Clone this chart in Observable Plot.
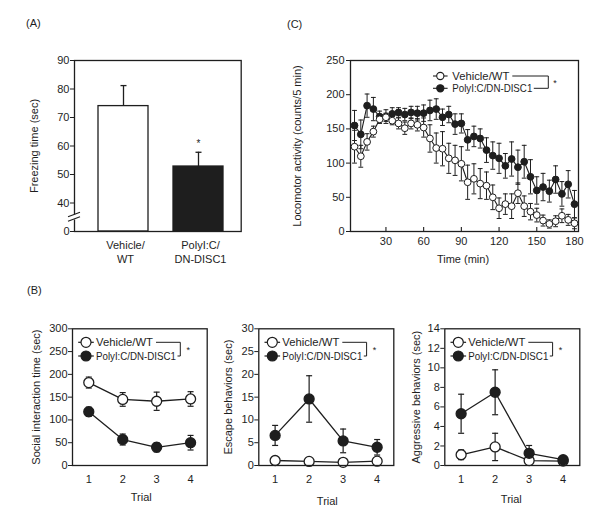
<!DOCTYPE html>
<html>
<head>
<meta charset="utf-8">
<script src="https://cdn.jsdelivr.net/npm/d3@7"></script>
<script src="https://cdn.jsdelivr.net/npm/@observablehq/plot@0.6"></script>
<style>
  body { margin: 0; background: #fff; }
  #page { position: relative; width: 600px; height: 522px; font-family: "Liberation Sans", Arial, Helvetica, sans-serif; color: #1e1e1e; overflow: hidden; }
  .plabel { position: absolute; font-size: 11px; line-height: 11px; }
  .panel { position: absolute; }
</style>
</head>
<body>
<div id="page">
  <div class="plabel" style="left:26px;top:18px;">(A)</div>
  <div class="plabel" style="left:27px;top:285px;">(B)</div>
  <div class="plabel" style="left:287px;top:18.5px;">(C)</div>
</div>
<script>
// ---------------- DATA ----------------
const seriesNames = ["Vehicle/WT", "PolyI:C/DN-DISC1"];

// (A) Freezing time
const groupsA = ["Vehicle/\nWT", "PolyI:C/\nDN-DISC1"];
const freezeMean = [74.0, 52.8];
const freezeSem = [7.2, 5.0];
const freezeTicks = [30, 40, 50, 60, 70, 80, 90];          // axis is broken below 40
const freezeTickLabels = ["0", "40", "50", "60", "70", "80", "90"];
const freezeStars = ["", "*"];
const freezeLabel = ["Freezing time (sec)"];

// (B) Social interaction test
const trials = [1, 2, 3, 4];
const socialVeh = [182, 145, 141, 146];
const socialVehErr = [12, 15, 20, 16];
const socialPoly = [118, 57, 40, 50];
const socialPolyErr = [10, 12, 10, 16];
const socialTicks = [0, 50, 100, 150, 200, 250, 300];

const escapeVeh = [1.1, 0.9, 0.7, 0.95];
const escapeVehErr = [0.3, 0.3, 0.3, 0.3];
const escapePoly = [6.6, 14.6, 5.4, 4.0];
const escapePolyErr = [2.2, 5.1, 2.6, 1.7];
const escapeTicks = [0, 5, 10, 15, 20, 25, 30];

const aggrVeh = [1.1, 1.9, 0.5, 0.45];
const aggrVehErr = [0.5, 1.4, 0.1, 0.1];
const aggrPoly = [5.3, 7.5, 1.25, 0.6];
const aggrPolyErr = [2.0, 2.3, 0.8, 0.2];
const aggrTicks = [0, 2, 4, 6, 8, 10, 12, 14];

const trialLabel = ["Trial"];
const bLabels = ["Social interaction time (sec)", "Escape behaviors (sec)", "Aggressive behaviors (sec)"];

// (C) Locomotor activity
const minutes = [5, 10, 15, 20, 25, 30, 35, 40, 45, 50, 55, 60, 65, 70, 75, 80, 85, 90,
  95, 100, 105, 110, 115, 120, 125, 130, 135, 140, 145, 150, 155, 160, 165, 170, 175, 180];
const locoVeh = [124, 110, 131, 146, 164, 167, 162, 158, 151, 158, 156, 152, 136, 122, 121, 107, 104, 99,
  72, 77, 70, 67, 50, 34, 40, 37, 56, 37, 29, 24, 16, 11, 15, 23, 17, 12];
const locoVehErr = [24, 16, 12, 8, 6, 6, 6, 8, 9, 8, 9, 14, 20, 22, 25, 22, 22, 25,
  25, 22, 22, 20, 18, 15, 15, 18, 15, 15, 12, 10, 8, 6, 8, 10, 8, 8];
const locoPoly = [155, 142, 184, 179, 168, 168, 172, 174, 171, 174, 173, 173, 177, 179, 167, 171, 157, 158,
  134, 139, 136, 119, 111, 107, 96, 106, 94, 102, 80, 60, 65, 59, 76, 55, 69, 40];
const locoPolyErr = [22, 21, 17, 17, 8, 10, 9, 7, 9, 9, 10, 12, 15, 15, 12, 12, 15, 14,
  15, 15, 14, 18, 20, 22, 18, 25, 25, 24, 25, 20, 20, 16, 20, 18, 20, 20];
const locoXTicks = [30, 60, 90, 120, 150, 180];
const locoYTicks = [0, 50, 100, 150, 200, 250];
const locoLabels = ["Time (min)", "Locomotor activity (counts/5 min)"];

// ---------------- HELPERS ----------------
const INK = "#1e1e1e";
const FONT = '"Liberation Sans", Arial, Helvetica, sans-serif';
const page = document.getElementById("page");
const baseStyle = {fontFamily: FONT, fontSize: "11px", color: INK, background: "transparent", overflow: "visible"};
const legendTextWidths = [57, 80];

const capSymbol = {draw(ctx, size) { const w = Math.sqrt(size / Math.PI); ctx.moveTo(-w, 0); ctx.lineTo(w, 0); }};

function place(svg, left, top) {
  const div = document.createElement("div");
  div.className = "panel";
  div.style.left = left + "px";
  div.style.top = top + "px";
  div.appendChild(svg);
  page.appendChild(div);
  return svg;
}

function errorBars(rows, {x, capR, sw, twoSided = true}) {
  const marks = [
    Plot.ruleX(rows, {x, y1: twoSided ? "lo" : "v", y2: "hi", stroke: INK, strokeWidth: sw}),
    Plot.dot(rows, {x, y: "hi", symbol: capSymbol, r: capR, stroke: INK, strokeWidth: sw, fill: "none"})
  ];
  if (twoSided) marks.push(Plot.dot(rows, {x, y: "lo", symbol: capSymbol, r: capR, stroke: INK, strokeWidth: sw, fill: "none"}));
  return marks;
}

function yLabel(label, dx) {
  return Plot.text([label], {frameAnchor: "left", rotate: -90, dx, text: d => d, fontSize: 11, fill: INK,
    textAnchor: "middle", lineAnchor: "middle"});
}
function xLabel(label, dx, dy) {
  return Plot.text([label], {frameAnchor: "bottom", dx, dy, text: d => d, fontSize: 11, fill: INK,
    textAnchor: "middle", lineAnchor: "middle"});
}

function drawLegend(svg, o) {
  const g = d3.select(svg).append("g").attr("font-family", FONT).attr("font-size", 11).attr("fill", INK)
    .attr("text-anchor", "start");
  const ys = [o.fy + o.row1, o.fy + o.row2];
  seriesNames.forEach((name, i) => {
    const y = ys[i];
    g.append("line").attr("x1", o.fx + o.markerDx - o.seg).attr("x2", o.fx + o.markerDx + o.seg)
      .attr("y1", y).attr("y2", y).attr("stroke", INK).attr("stroke-width", o.sw);
    g.append("circle").attr("cx", o.fx + o.markerDx).attr("cy", y).attr("r", o.r)
      .attr("fill", i === 0 ? "#fff" : INK).attr("stroke", INK).attr("stroke-width", o.sw);
    g.append("text").attr("x", o.fx + o.textDx).attr("y", y).attr("dy", "0.35em")
      .attr("text-anchor", "start").attr("textLength", legendTextWidths[i]).attr("lengthAdjust", "spacingAndGlyphs")
      .text(name);
  });
  const bx = o.fx + o.bracketDx;
  g.append("path")
    .attr("d", `M${o.fx + o.textDx + legendTextWidths[0] + 3},${ys[0]}H${bx}V${ys[1]}H${o.fx + o.textDx + legendTextWidths[1] + 1.5}`)
    .attr("fill", "none").attr("stroke", INK).attr("stroke-width", 1);
  g.append("text").attr("x", o.fx + o.starDx).attr("y", o.fy + o.starDy).attr("dy", "0.57em")
    .attr("text-anchor", "middle").attr("font-size", 9).text("*");
}

// ---------------- PANEL A ----------------
{
  const rows = groupsA.map((g, i) => ({group: g, v: freezeMean[i], hi: freezeMean[i] + freezeSem[i], star: freezeStars[i]}));
  const W = 280, H = 280, ml = 74, mr = 39.3, mt = 60, mb = 49;
  const svg = Plot.plot({
    width: W, height: H, marginLeft: ml, marginRight: mr, marginTop: mt, marginBottom: mb,
    style: baseStyle,
    x: {type: "band", domain: groupsA, paddingInner: 0.327, paddingOuter: 0.263, align: 0.58, label: null},
    y: {domain: [freezeTicks[0], freezeTicks[freezeTicks.length - 1]], label: null},
    marks: [
      Plot.barY([rows[0]], {x: "group", y1: freezeTicks[0], y2: "v", fill: "#fff", stroke: INK, strokeWidth: 1.3}),
      Plot.barY([rows[1]], {x: "group", y1: freezeTicks[0], y2: "v", fill: INK, stroke: INK, strokeWidth: 1.3}),
      ...errorBars(rows, {x: "group", capR: 3, sw: 1.3, twoSided: false}),
      Plot.text(rows, {x: "group", y: "hi", text: "star", dy: -8, fontSize: 10, fill: INK}),
      Plot.frame({stroke: INK, strokeWidth: 1.3}),
      Plot.axisY({ticks: freezeTicks, tickFormat: d => freezeTickLabels[freezeTicks.indexOf(d)], tickSize: 4, tickPadding: 1, label: null, fill: INK}),
      Plot.axisX({tickSize: 0, tickPadding: 8, lineHeight: 1.27, label: null, dx: 2, fill: INK}),
      yLabel(freezeLabel[0], -40.5)
    ]
  });
  place(svg, 0, 0);
  // axis break marks
  const bk = d3.select(svg).append("g");
  const by = H - mb - 14;
  bk.append("rect").attr("x", ml - 2).attr("y", by - 2.5).attr("width", 4).attr("height", 5).attr("fill", "#fff");
  [-2.3, 2.3].forEach(o => {
    bk.append("line").attr("x1", ml - 6).attr("y1", by + o + 2).attr("x2", ml + 6).attr("y2", by + o - 2.5)
      .attr("stroke", INK).attr("stroke-width", 1.2);
  });
}

// ---------------- PANEL B ----------------
function panelB(vehV, vehE, polyV, polyE, cfg) {
  const mk = (vals, errs) => trials.map((t, i) => ({t, v: vals[i], lo: vals[i] - errs[i], hi: vals[i] + errs[i]}));
  const veh = mk(vehV, vehE), poly = mk(polyV, polyE);
  const mt = 48.3, mb = 57;
  const svg = Plot.plot({
    width: cfg.width, height: 242, marginLeft: cfg.ml, marginRight: cfg.mr, marginTop: mt, marginBottom: mb,
    style: baseStyle,
    x: {domain: [0.52, 4.49], ticks: trials, tickSize: 0, tickPadding: 10, tickFormat: d => String(d), label: null},
    y: {domain: [cfg.ticks[0], cfg.ticks[cfg.ticks.length - 1]], ticks: cfg.ticks, tickSize: 4, tickPadding: 1, label: null},
    marks: [
      Plot.line(veh, {x: "t", y: "v", stroke: INK, strokeWidth: 1.3}),
      Plot.line(poly, {x: "t", y: "v", stroke: INK, strokeWidth: 1.3}),
      ...errorBars(veh, {x: "t", capR: 3, sw: 1.2}),
      ...errorBars(poly, {x: "t", capR: 3, sw: 1.2}),
      Plot.dot(veh, {x: "t", y: "v", r: 5, fill: "#fff", stroke: INK, strokeWidth: 1.3}),
      Plot.dot(poly, {x: "t", y: "v", r: 5, fill: INK, stroke: INK, strokeWidth: 1.3}),
      Plot.frame({stroke: INK, strokeWidth: 1.3}),
      yLabel(cfg.label, cfg.ylDx),
      xLabel(trialLabel[0], cfg.xlDx, cfg.xlDy)
    ]
  });
  place(svg, cfg.left, 280);
  drawLegend(svg, {fx: cfg.ml, fy: mt, markerDx: 14, seg: 7.8, textDx: 24, bracketDx: 108.3, row1: 14, row2: 27.7,
    starDx: 116.3, starDy: 20, r: 5, sw: 1.2});
}
panelB(socialVeh, socialVehErr, socialPoly, socialPolyErr,
  {left: 0, width: 210, ml: 72, mr: 3.3, ticks: socialTicks, label: bLabels[0], ylDx: -35.8, xlDx: 1.4, xlDy: 32});
panelB(escapeVeh, escapeVehErr, escapePoly, escapePolyErr,
  {left: 210, width: 190, ml: 48.3, mr: 6.7, ticks: escapeTicks, label: bLabels[1], ylDx: -30.5, xlDx: 1, xlDy: 35.8});
panelB(aggrVeh, aggrVehErr, aggrPoly, aggrPolyErr,
  {left: 400, width: 200, ml: 44.3, mr: 20.7, ticks: aggrTicks, label: bLabels[2], ylDx: -28.5, xlDx: -1, xlDy: 33.7});

// ---------------- PANEL C ----------------
{
  const mk = (vals, errs) => minutes.map((t, i) => ({t, v: vals[i], lo: vals[i] - errs[i], hi: vals[i] + errs[i]}));
  const veh = mk(locoVeh, locoVehErr), poly = mk(locoPoly, locoPolyErr);
  const W = 320, H = 280, ml = 70, mr = 22, mt = 60, mb = 49;
  const svg = Plot.plot({
    width: W, height: H, marginLeft: ml, marginRight: mr, marginTop: mt, marginBottom: mb,
    style: baseStyle,
    x: {domain: [1.8, 183.2], ticks: locoXTicks, tickSize: 0, tickPadding: 6, label: null},
    y: {domain: [locoYTicks[0], locoYTicks[locoYTicks.length - 1]], ticks: locoYTicks, tickSize: 4, tickPadding: 2, label: null},
    marks: [
      Plot.tickX(locoXTicks, {x: d => d, insetTop: H - mt - mb - 4, stroke: INK, strokeWidth: 1.1}),
      Plot.line(poly, {x: "t", y: "v", stroke: INK, strokeWidth: 1.1}),
      Plot.line(veh, {x: "t", y: "v", stroke: INK, strokeWidth: 1.1}),
      ...errorBars(poly, {x: "t", capR: 2.4, sw: 1}),
      ...errorBars(veh, {x: "t", capR: 2.4, sw: 1}),
      Plot.dot(poly, {x: "t", y: "v", r: 3.4, fill: INK, stroke: INK, strokeWidth: 1}),
      Plot.dot(veh, {x: "t", y: "v", r: 3.4, fill: "#fff", stroke: INK, strokeWidth: 1}),
      Plot.frame({stroke: INK, strokeWidth: 1.3}),
      yLabel(locoLabels[1], -52.8),
      xLabel(locoLabels[0], -1.5, 28)
    ]
  });
  place(svg, 280, 0);
  drawLegend(svg, {fx: ml, fy: mt, markerDx: 90.3, seg: 7.3, textDx: 102.3, bracketDx: 198.3, row1: 16, row2: 28.3,
    starDx: 205, starDy: 20.7, r: 3.6, sw: 1.1});
}
</script>
</body>
</html>
